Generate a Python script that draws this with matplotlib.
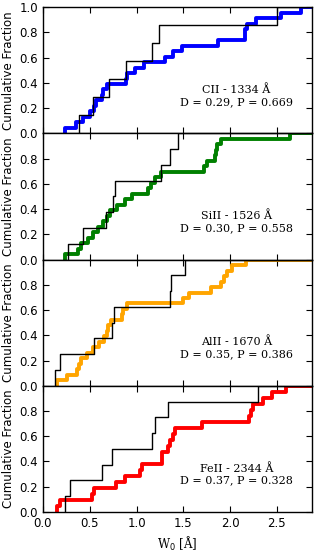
import numpy as np
import matplotlib
matplotlib.use('Agg')
import matplotlib.pyplot as plt

# equivalent widths W0 [A] for each ion: sample (colored) and comparison (black)
ions = ['CII - 1334 Å', 'SiII - 1526 Å', 'AlII - 1670 Å', 'FeII - 2344 Å']
colors = ['blue', 'green', 'orange', 'red']
ks_D = ['0.29', '0.30', '0.35', '0.37']
ks_P = ['0.669', '0.558', '0.386', '0.328']

cii_color = [0.24, 0.35, 0.43, 0.50, 0.55, 0.57, 0.63, 0.645, 0.68, 0.89, 0.90, 0.98,
             1.08, 1.30, 1.39, 1.49, 1.87, 2.155, 2.165, 2.18, 2.28, 2.55, 2.76]
cii_black = [0.385, 0.537, 0.708, 0.887, 1.165, 1.243, 2.503]

siii_color = [0.235, 0.377, 0.403, 0.484, 0.531, 0.591, 0.644, 0.68, 0.716, 0.787, 0.876,
              0.948, 1.125, 1.15, 1.197, 1.257, 1.72, 1.75, 1.84, 1.85, 1.86, 1.90, 2.64]
siii_black = [0.265, 0.43, 0.67, 0.75, 0.765, 1.258, 1.36, 1.44]

alii_color = [0.153, 0.253, 0.367, 0.388, 0.403, 0.467, 0.531, 0.60, 0.652, 0.68, 0.698,
              0.727, 0.84, 0.858, 0.894, 1.50, 1.565, 1.80, 1.90, 1.935, 1.965, 2.02, 2.17]
alii_black = [0.125, 0.18, 0.55, 0.735, 0.76, 1.36, 1.365, 1.52]

feii_color = [0.146, 0.18, 0.525, 0.545, 0.78, 0.876, 1.036, 1.061, 1.268, 1.275, 1.339,
              1.36, 1.385, 1.41, 1.695, 2.205, 2.225, 2.245, 2.354, 2.45, 2.60]
feii_black = [0.238, 0.29, 0.63, 0.737, 1.163, 1.197, 1.339, 2.30]

color_data = [cii_color, siii_color, alii_color, feii_color]
black_data = [cii_black, siii_black, alii_black, feii_black]

XMAX = 2.875


def cdf_step(ax, vals, **kw):
    x = np.sort(np.array(vals))
    n = len(x)
    xs = np.concatenate([[x[0]], x, [XMAX + 1]])
    ys = np.concatenate([[0], np.arange(1, n + 1) / n, [1]])
    ax.step(xs, ys, where='post', **kw)


plt.rcParams['xtick.direction'] = 'in'
plt.rcParams['ytick.direction'] = 'in'
plt.rcParams['xtick.top'] = True
plt.rcParams['ytick.right'] = True

fig, axes = plt.subplots(4, 1, sharex=True, figsize=(3.16, 5.52), dpi=100)
fig.subplots_adjust(left=0.136, right=0.987, bottom=0.0725, top=0.987, hspace=0)

for i, ax in enumerate(axes):
    cdf_step(ax, color_data[i], color=colors[i], lw=2.8)
    cdf_step(ax, black_data[i], color='black', lw=1.0)
    ax.set_xlim(0, XMAX)
    ax.set_ylim(0, 1)
    ax.set_xticks([0, 0.5, 1.0, 1.5, 2.0, 2.5])
    if i == 0:
        ax.set_yticks([0, 0.2, 0.4, 0.6, 0.8, 1.0])
    else:
        ax.set_yticks([0, 0.2, 0.4, 0.6, 0.8])
    ax.tick_params(length=4, width=0.8, labelsize=8.5)
    ax.set_ylabel('Cumulative Fraction', fontsize=8.5, labelpad=3)
    ax.text(0.72, 0.30, ions[i] + '\nD = ' + ks_D[i] + ', P = ' + ks_P[i],
            transform=ax.transAxes, ha='center', va='center',
            family='DejaVu Serif', fontsize=8, linespacing=1.25)
    for s in ax.spines.values():
        s.set_linewidth(1.0)

axes[-1].set_xlabel('W$_0$ [Å]', family='DejaVu Serif', fontsize=8.5)

plt.savefig('out.png', dpi=100)
